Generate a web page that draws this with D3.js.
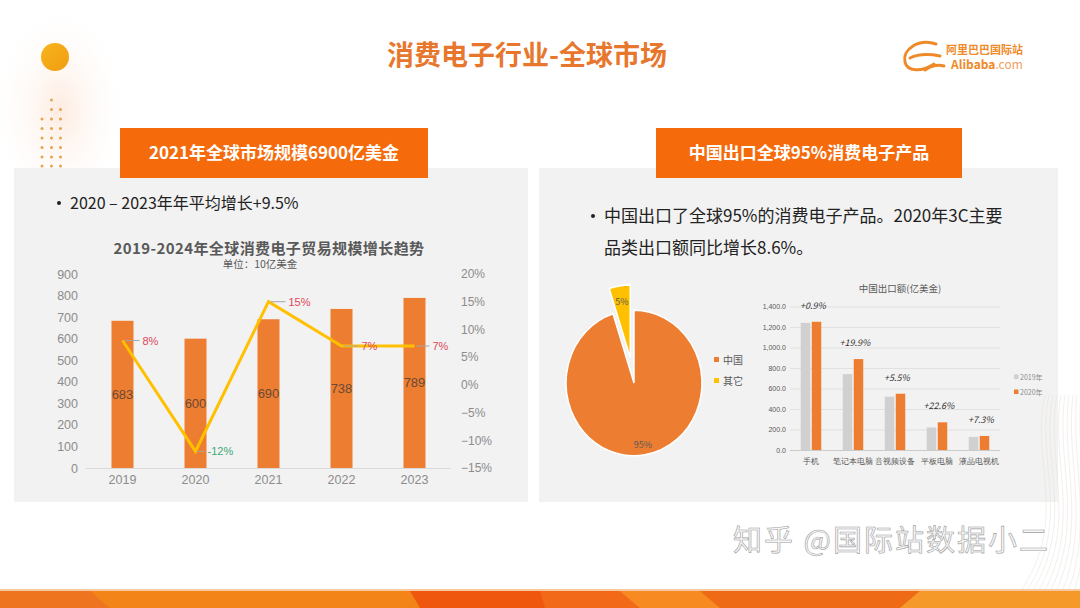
<!DOCTYPE html>
<html><head><meta charset="utf-8">
<script src="https://cdn.jsdelivr.net/npm/d3@7"></script>
<style>
html,body{margin:0;padding:0;background:#fff;}
svg{display:block;font-family:"Noto Sans CJK SC","Noto Sans",sans-serif;}
</style></head>
<body>
<svg id="c" width="1080" height="608"></svg>
<script>
// ---------- data ----------
const years = ["2019", "2020", "2021", "2022", "2023"];
const marketSize = [683, 600, 690, 738, 789];
const marketGrowth = [0.08, -0.12, 0.15, 0.07, 0.07];
const growthText = ["8%", "-12%", "15%", "7%", "7%"];
const leftTicks = [0, 100, 200, 300, 400, 500, 600, 700, 800, 900];
const rightTicks = [-0.15, -0.10, -0.05, 0, 0.05, 0.10, 0.15, 0.20];

const pieCats = ["中国", "其它"];
const pieValues = [95, 5];

const exportCats = ["手机", "笔记本电脑", "音视频设备", "平板电脑", "液晶电视机"];
const export2019 = [1240, 740, 520, 220, 128];
const export2020 = [1251, 887, 549, 270, 137];
const exportGrowth = ["+0.9%", "+19.9%", "+5.5%", "+22.6%", "+7.3%"];
const exportTicks = [0, 200, 400, 600, 800, 1000, 1200, 1400];
const exportSeries = ["2019年", "2020年"];

// ---------- helpers ----------
const svg = d3.select("#c");
const ORANGE = "#ED7D31", YELLOW = "#FFC000", GRAY_BAR = "#D0D0D0";
const defs = svg.append("defs");

// ---------- background decorations ----------
const glow = defs.append("radialGradient").attr("id", "glow");
glow.append("stop").attr("offset", "0%").attr("stop-color", "#fde9dc").attr("stop-opacity", 0.9);
glow.append("stop").attr("offset", "100%").attr("stop-color", "#fff").attr("stop-opacity", 0);
svg.append("ellipse").attr("cx", 60).attr("cy", 110).attr("rx", 70).attr("ry", 110).attr("fill", "url(#glow)");

const sun = defs.append("linearGradient").attr("id", "sun").attr("x1", 0).attr("y1", 0).attr("x2", 1).attr("y2", 1);
sun.append("stop").attr("offset", "0%").attr("stop-color", "#F7B51C");
sun.append("stop").attr("offset", "100%").attr("stop-color", "#F19C12");
svg.append("circle").attr("cx", 55).attr("cy", 57).attr("r", 14).attr("fill", "url(#sun)");

// dot pattern
const dotCols = [42, 51.5, 60.5];
const dotRows = [100, 109.5, 119, 128.5, 138, 147.5, 157, 166];
dotRows.forEach((y, ri) => {
  dotCols.forEach((x, ci) => {
    if (ri === 0 && ci !== 1) return;
    if (ri === 1 && ci === 0) return;
    svg.append("circle").attr("cx", x).attr("cy", y).attr("r", 1.5).attr("fill", "#E3A552");
  });
});

// main title
svg.append("text").attr("x", 527).attr("y", 65).attr("text-anchor", "middle")
  .attr("font-size", 27).attr("font-weight", "bold").attr("fill", "#E8772E")
  .text("消费电子行业-全球市场");

// logo
const logo = svg.append("g");
logo.append("path")
  .attr("d", "M936,44 C918,38 902,50 905,62 C907,72 922,72 934,64 M910,58 C918,54 930,54 940,56 M925,70 C930,66 938,64 944,66")
  .attr("fill", "none").attr("stroke", "#EE8A2A").attr("stroke-width", 3).attr("stroke-linecap", "round");
logo.append("text").attr("x", 946).attr("y", 54).attr("font-size", 11).attr("font-weight", "bold")
  .attr("fill", "#EE8A2A").text("阿里巴巴国际站");
const at = logo.append("text").attr("x", 951).attr("y", 69).attr("font-size", 12).attr("fill", "#EE8A2A");
at.append("tspan").attr("font-weight", "bold").text("Alibaba");
at.append("tspan").attr("fill", "#F0A060").text(".com");

// panels
svg.append("rect").attr("x", 14).attr("y", 168).attr("width", 514).attr("height", 334).attr("fill", "#F2F2F2");
svg.append("rect").attr("x", 539).attr("y", 168).attr("width", 519).attr("height", 334).attr("fill", "#F2F2F2");

// header boxes
svg.append("rect").attr("x", 120).attr("y", 128).attr("width", 308).attr("height", 50).attr("fill", "#F56B0C");
svg.append("text").attr("x", 274).attr("y", 159).attr("text-anchor", "middle").attr("font-size", 17)
  .attr("font-weight", "bold").attr("fill", "#fff").text("2021年全球市场规模6900亿美金");
svg.append("rect").attr("x", 656).attr("y", 128).attr("width", 306).attr("height", 50).attr("fill", "#F56B0C");
svg.append("text").attr("x", 809).attr("y", 159).attr("text-anchor", "middle").attr("font-size", 17)
  .attr("font-weight", "bold").attr("fill", "#fff").text("中国出口全球95%消费电子产品");

// bullets
svg.append("circle").attr("cx", 59).attr("cy", 203).attr("r", 2).attr("fill", "#222");
svg.append("text").attr("x", 70).attr("y", 209).attr("font-size", 16).attr("fill", "#222")
  .text("2020 – 2023年年平均增长+9.5%");
svg.append("circle").attr("cx", 593).attr("cy", 216).attr("r", 2).attr("fill", "#222");
svg.append("text").attr("x", 604).attr("y", 222).attr("font-size", 17).attr("fill", "#222")
  .text("中国出口了全球95%的消费电子产品。2020年3C主要");
svg.append("text").attr("x", 604).attr("y", 254).attr("font-size", 17).attr("fill", "#222")
  .text("品类出口额同比增长8.6%。");

// ---------- left chart ----------
const L = svg.append("g");
L.append("text").attr("x", 269).attr("y", 254).attr("text-anchor", "middle").attr("font-size", 15)
  .attr("letter-spacing", 0.4)
  .attr("font-weight", "bold").attr("fill", "#595959").text("2019-2024年全球消费电子贸易规模增长趋势");
L.append("text").attr("x", 260).attr("y", 268).attr("text-anchor", "middle").attr("font-size", 10.5)
  .attr("fill", "#595959").text("单位：10亿美金");

const xL = d3.scaleBand().domain(years).range([86, 451]);
const yL = d3.scaleLinear().domain([0, 900]).range([468, 274]);
const yR = d3.scaleLinear().domain([-0.15, 0.20]).range([468, 274]);

const axL = L.append("g").attr("transform", "translate(78,0)")
  .call(d3.axisLeft(yL).tickValues(leftTicks).tickSize(0).tickPadding(0));
axL.select(".domain").remove();
axL.selectAll("text").attr("font-size", 12.5).attr("fill", "#8C8C8C").attr("font-family", "Liberation Sans, Arial, sans-serif");

const axR = L.append("g").attr("transform", "translate(461,0)")
  .call(d3.axisRight(yR).tickValues(rightTicks).tickSize(0).tickPadding(0).tickFormat(d3.format(".0%")));
axR.select(".domain").remove();
axR.selectAll("text").attr("font-size", 12).attr("fill", "#8C8C8C").attr("font-family", "Liberation Sans, Arial, sans-serif");

L.append("line").attr("x1", 86).attr("x2", 451).attr("y1", 468.5).attr("y2", 468.5).attr("stroke", "#D9D9D9");

const axB = L.append("g").attr("transform", "translate(0,468)")
  .call(d3.axisBottom(xL).tickSize(0).tickPadding(7));
axB.select(".domain").remove();
axB.selectAll("text").attr("font-size", 12.5).attr("fill", "#8C8C8C").attr("font-family", "Liberation Sans, Arial, sans-serif");

const bwL = 22;
L.selectAll(".barL").data(years).join("rect")
  .attr("x", d => xL(d) + xL.bandwidth() / 2 - bwL / 2)
  .attr("y", (d, i) => yL(marketSize[i]))
  .attr("width", bwL)
  .attr("height", (d, i) => yL(0) - yL(marketSize[i]))
  .attr("fill", ORANGE);

L.selectAll(".valL").data(years).join("text")
  .attr("x", d => xL(d) + xL.bandwidth() / 2)
  .attr("y", (d, i) => yL(marketSize[i] / 2) + 4.5)
  .attr("text-anchor", "middle").attr("font-size", 13).attr("fill", "#6B4A36")
  .attr("font-family", "Liberation Sans, Arial, sans-serif")
  .text((d, i) => marketSize[i]);

const line = d3.line().x((d, i) => xL(years[i]) + xL.bandwidth() / 2).y(d => yR(d));
L.append("path").datum(marketGrowth).attr("d", line).attr("fill", "none")
  .attr("stroke", YELLOW).attr("stroke-width", 3).attr("stroke-linejoin", "miter");

const lblOff = [[20, 0], [12, 0], [20, 0], [20, 0], [18, 0]];
years.forEach((yr, i) => {
  const px = xL(yr) + xL.bandwidth() / 2, py = yR(marketGrowth[i]);
  const [dx, dy] = lblOff[i];
  L.append("line").attr("x1", px + 2).attr("x2", px + dx - 3).attr("y1", py + dy).attr("y2", py + dy)
    .attr("stroke", "#A6A6A6").attr("stroke-width", 1);
  L.append("text").attr("x", px + dx).attr("y", py + dy + 4).attr("font-size", 11)
    .attr("fill", marketGrowth[i] < 0 ? "#3DAA78" : "#E0485A")
    .attr("font-family", "Liberation Sans, Arial, sans-serif")
    .text(growthText[i]);
});

// ---------- pie ----------
const P = svg.append("g").attr("transform", "translate(634,383) scale(1,1.07)");
const pie = d3.pie().sort(null).startAngle(0).endAngle(2 * Math.PI)(pieValues);
const arc = d3.arc().innerRadius(0).outerRadius(68);
const explode = 24;
P.selectAll("path").data(pie).join("path")
  .attr("d", arc)
  .attr("transform", (d, i) => {
    if (i === 0) return null;
    const a = (d.startAngle + d.endAngle) / 2;
    return `translate(${Math.sin(a) * explode},${-Math.cos(a) * explode})`;
  })
  .attr("fill", (d, i) => i === 0 ? ORANGE : YELLOW)
  .attr("stroke", "#fff").attr("stroke-width", 1.5);
svg.append("text").attr("x", 643).attr("y", 448).attr("text-anchor", "middle").attr("font-size", 9)
  .attr("fill", "#595959").text(pieValues[0] + "%");
svg.append("text").attr("x", 622).attr("y", 305).attr("text-anchor", "middle").attr("font-size", 9)
  .attr("fill", "#595959").text(pieValues[1] + "%");
pieCats.forEach((c, i) => {
  svg.append("rect").attr("x", 714).attr("y", 357 + i * 21).attr("width", 5).attr("height", 5)
    .attr("fill", i === 0 ? ORANGE : YELLOW);
  svg.append("text").attr("x", 723).attr("y", 363.5 + i * 21).attr("font-size", 10).attr("fill", "#595959").text(c);
});

// ---------- right bar chart ----------
const R = svg.append("g");
R.append("text").attr("x", 900).attr("y", 292).attr("text-anchor", "middle").attr("font-size", 9.5)
  .attr("fill", "#595959").text("中国出口额(亿美金)");
const xE = d3.scaleBand().domain(exportCats).range([790, 1000]);
const yE = d3.scaleLinear().domain([0, 1400]).range([450, 306.5]);

R.selectAll(".grid").data(exportTicks).join("line")
  .attr("x1", 790).attr("x2", 1000).attr("y1", d => yE(d) + 0.5).attr("y2", d => yE(d) + 0.5)
  .attr("stroke", d => d === 0 ? "#BFBFBF" : "#DCDCDC").attr("stroke-width", 0.8);

const axE = R.append("g").attr("transform", "translate(786,0)")
  .call(d3.axisLeft(yE).tickValues(exportTicks).tickSize(0).tickPadding(0).tickFormat(d3.format(",.1f")));
axE.select(".domain").remove();
axE.selectAll("text").attr("font-size", 7).attr("fill", "#595959");

const axEB = R.append("g").attr("transform", "translate(0,450)")
  .call(d3.axisBottom(xE).tickSize(0).tickPadding(9));
axEB.select(".domain").remove();
axEB.selectAll("text").attr("font-size", 7.5).attr("fill", "#595959");

const bwE = 9.5, gapE = 1.5;
R.selectAll(".b19").data(exportCats).join("rect")
  .attr("x", d => xE(d) + xE.bandwidth() / 2 - gapE / 2 - bwE)
  .attr("y", (d, i) => yE(export2019[i])).attr("width", bwE)
  .attr("height", (d, i) => yE(0) - yE(export2019[i])).attr("fill", GRAY_BAR);
R.selectAll(".b20").data(exportCats).join("rect")
  .attr("x", d => xE(d) + xE.bandwidth() / 2 + gapE / 2)
  .attr("y", (d, i) => yE(export2020[i])).attr("width", bwE)
  .attr("height", (d, i) => yE(0) - yE(export2020[i])).attr("fill", ORANGE);
R.selectAll(".gl").data(exportCats).join("text")
  .attr("x", d => xE(d) + xE.bandwidth() / 2 + 2)
  .attr("y", (d, i) => yE(Math.max(export2019[i], export2020[i])) - 13)
  .attr("text-anchor", "middle").attr("font-size", 9).attr("font-style", "italic")
  .attr("fill", "#333").text((d, i) => exportGrowth[i]);

exportSeries.forEach((s, i) => {
  R.append("rect").attr("x", 1014).attr("y", 374.5 + i * 15).attr("width", 4.5).attr("height", 4.5)
    .attr("fill", i === 0 ? GRAY_BAR : ORANGE);
  R.append("text").attr("x", 1020).attr("y", 380 + i * 15).attr("font-size", 7).attr("fill", "#8C8C8C").text(s);
});

// ---------- bottom decorations ----------
const waves = svg.append("g").attr("fill", "none").attr("stroke", "#E6E0D8").attr("stroke-width", 0.6).attr("opacity", 0.8);
for (let k = 0; k < 10; k++) {
  waves.append("path").attr("d", `M${1045 + k * 4},395 C${1030 + k * 5},460 ${1070 + k * 3},520 ${1020 + k * 6},592`);
}

const band = svg.append("g");
band.append("rect").attr("x", 0).attr("y", 591).attr("width", 1080).attr("height", 17).attr("fill", "#F28418");
band.append("polygon").attr("points", "0,591 90,591 110,608 0,608").attr("fill", "#EE7420");
band.append("polygon").attr("points", "410,591 600,591 620,608 420,608").attr("fill", "#EF560E");
band.append("polygon").attr("points", "540,591 620,591 640,608 545,608").attr("fill", "#F26A18");
band.append("polygon").attr("points", "620,591 700,591 720,608 640,608").attr("fill", "#F78A20");
band.append("polygon").attr("points", "700,591 920,591 900,608 720,608").attr("fill", "#EF6A14");
band.append("polygon").attr("points", "920,591 1080,591 1080,608 900,608").attr("fill", "#F59A2A");
band.append("rect").attr("x", 0).attr("y", 589).attr("width", 1080).attr("height", 2).attr("fill", "#F8C9A0");

// watermark
svg.append("text").attr("x", 1050).attr("y", 551).attr("text-anchor", "end").attr("font-size", 29)
  .attr("fill", "#f6f6f6").attr("stroke", "#A0A0A0").attr("stroke-width", 0.6)
  .attr("letter-spacing", 2).text("知乎 @国际站数据小二");
</script>
</body></html>
